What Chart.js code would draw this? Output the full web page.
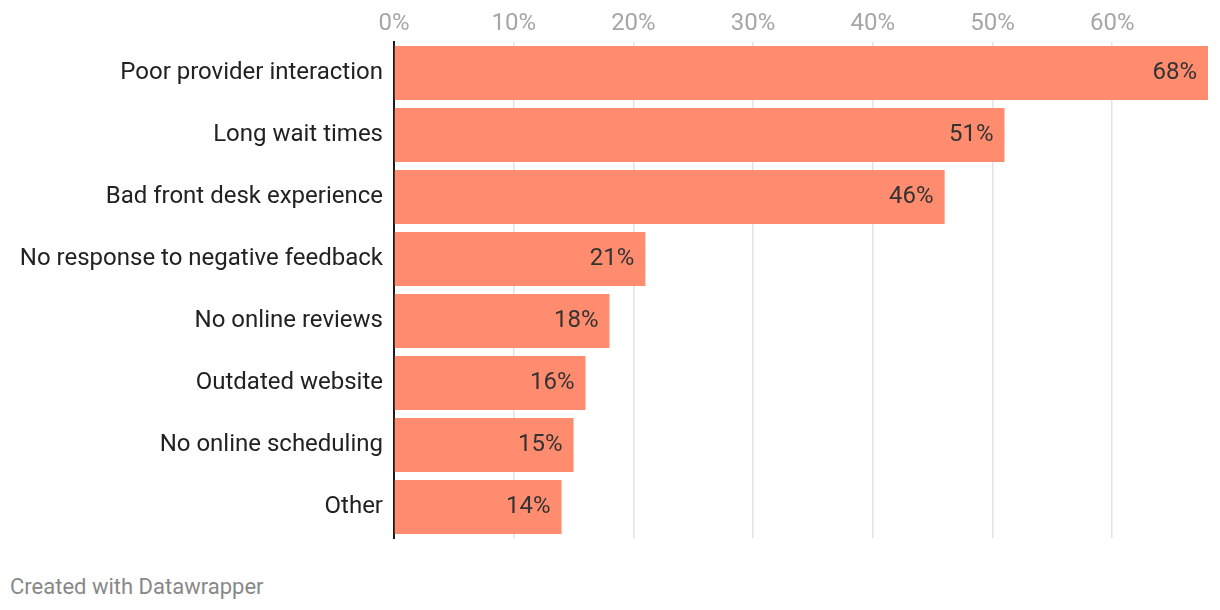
<!DOCTYPE html>
<html lang="en">
<head>
    <meta charset="UTF-8">
    <title>Patient complaints</title>
    <script src="https://cdn.jsdelivr.net/npm/chart.js@4.4.1/dist/chart.umd.min.js"></script>
    <style>
        * {
            margin: 0;
            padding: 0;
            box-sizing: border-box;
        }

        body {
            background: #fff;
            font-family: Roboto, sans-serif;
            width: 1220px;
            height: 610px;
            position: relative;
            overflow: hidden;
        }

        .chart-wrap {
            position: absolute;
            left: 0;
            top: 0;
            width: 1220px;
            height: 550px;
        }

        .footer {
            position: absolute;
            left: 10px;
            top: 573px;
            font-size: 22px;
            line-height: 28px;
            color: #888;
        }
    </style>
</head>
<body>
    <div class="chart-wrap">
        <canvas id="chart"></canvas>
    </div>
    <div class="footer">Created with Datawrapper</div>

    <script>
        // Data
        const reasons = [
            'Poor provider interaction',
            'Long wait times',
            'Bad front desk experience',
            'No response to negative feedback',
            'No online reviews',
            'Outdated website',
            'No online scheduling',
            'Other'
        ];
        const shares = [68, 51, 46, 21, 18, 16, 15, 14];
        const tickValues = [0, 10, 20, 30, 40, 50, 60];

        // value labels at the inner end of each bar
        const valueLabels = {
            id: 'valueLabels',
            afterDatasetsDraw(chart) {
                const ctx = chart.ctx;
                const meta = chart.getDatasetMeta(0);
                ctx.save();
                ctx.font = '24px Roboto';
                ctx.fillStyle = '#333';
                ctx.textAlign = 'right';
                ctx.textBaseline = 'middle';
                meta.data.forEach((bar, i) => {
                    ctx.fillText(shares[i] + '%', bar.x - 11, bar.y);
                });
                ctx.restore();
            }
        };

        new Chart(document.getElementById('chart'), {
            type: 'bar',
            data: {
                labels: reasons,
                datasets: [{
                    data: shares,
                    backgroundColor: '#ff8c6e',
                    borderWidth: 0,
                    categoryPercentage: 1,
                    barPercentage: 54 / 62
                }]
            },
            options: {
                indexAxis: 'y',
                responsive: true,
                maintainAspectRatio: false,
                animation: false,
                layout: {
                    padding: { left: 0, right: 12, top: 0, bottom: 12 }
                },
                plugins: {
                    legend: { display: false },
                    tooltip: { enabled: false }
                },
                scales: {
                    x: {
                        position: 'top',
                        min: 0,
                        max: 68,
                        afterFit(scale) { scale.height = 42; },
                        afterBuildTicks(scale) {
                            scale.ticks = tickValues.map(v => ({ value: v }));
                        },
                        grid: {
                            color: '#e3e3e3',
                            lineWidth: 1.5,
                            drawTicks: false
                        },
                        border: { display: false },
                        ticks: {
                            padding: 4,
                            color: '#a6a6a6',
                            font: { family: 'Roboto', size: 24 },
                            callback: v => v + '%'
                        }
                    },
                    y: {
                        afterFit(scale) {
                            scale.width = 394;
                            scale.paddingTop = 0;
                            scale.paddingBottom = 0;
                        },
                        grid: { display: false, drawTicks: false },
                        border: { display: true, color: '#1a1a1a', width: 2 },
                        ticks: {
                            padding: 11,
                            color: '#222',
                            font: { family: 'Roboto', size: 24 }
                        }
                    }
                }
            },
            plugins: [valueLabels]
        });
    </script>
</body>
</html>
